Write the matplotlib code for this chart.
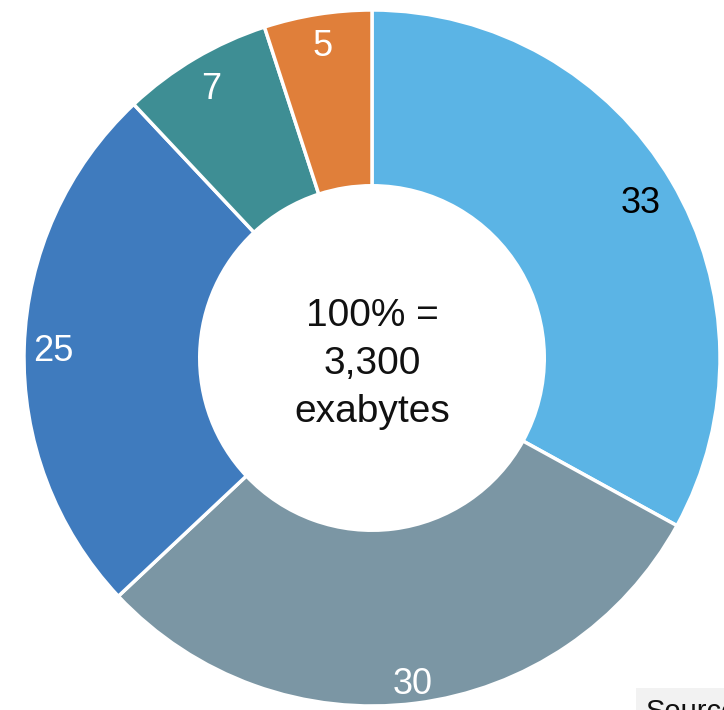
import numpy as np
import matplotlib
matplotlib.use("Agg")
import matplotlib.pyplot as plt

values = [33, 30, 25, 7, 5]
labels = ["33", "30", "25", "7", "5"]
colors = ["#5BB4E5", "#7B96A4", "#3F7BBE", "#3E8E94", "#E07F3A"]
label_colors = ["black", "white", "white", "white", "white"]
center_lines = ["100% =", "3,300", "exabytes"]

W, H = 724, 710
fig = plt.figure(figsize=(W / 100, H / 100), dpi=100)
ax = fig.add_axes([0, 0, 1, 1])

cx, cy, R = 372, H - 358, 348
wedges, _ = ax.pie(values, colors=colors, startangle=90, counterclock=False,
                   center=(cx, cy), radius=R, frame=True,
                   wedgeprops=dict(width=R * 0.505, edgecolor="white", linewidth=2.5))
ax.set_xlim(0, W)
ax.set_ylim(0, H)
ax.axis("off")

label_r = [0.896, 0.933, 0.917, 0.909, 0.917]
font = "Liberation Sans"
for w, lab, lc, rf in zip(wedges, labels, label_colors, label_r):
    ang = np.deg2rad((w.theta1 + w.theta2) / 2)
    ax.text(cx + R * rf * np.cos(ang), cy + R * rf * np.sin(ang) - 4, lab,
            ha="center", va="center", fontsize=26, color=lc, family=font)

ax.text(cx, cy - 6, "\n".join(center_lines), ha="center", va="center",
        fontsize=28, family=font, linespacing=1.42, color="#111111")

fig.text(646 / W, 1 - 712 / H, "Source:", ha="left", va="center", fontsize=21,
         family=font, color="#111111",
         bbox=dict(boxstyle="square,pad=0.35", facecolor="#F2F2F2", edgecolor="none"))

fig.savefig("out.png", dpi=100)
